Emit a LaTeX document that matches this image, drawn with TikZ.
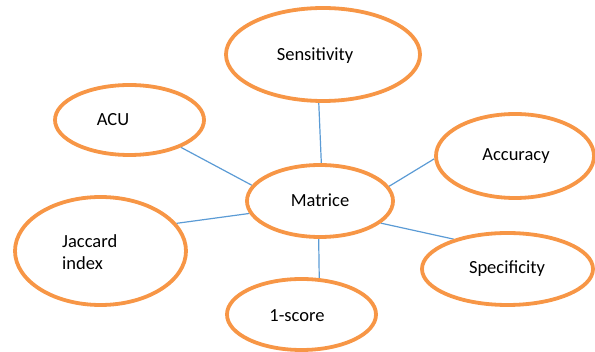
\documentclass[tikz,border=0pt]{standalone}
\usepackage{fontspec}
\setmainfont{Carlito}
\usetikzlibrary{shapes.geometric,backgrounds}
\definecolor{orangeC}{HTML}{F79646}
\definecolor{blueC}{HTML}{5B9BD5}
\tikzset{
  ell/.style={ellipse, draw=orangeC, line width=3.8pt, inner sep=0pt},
  lbl/.style={inner sep=0pt, font=\fontsize{18.5}{22}\selectfont, text=black},
  conn/.style={draw=blueC, line width=1.2pt}
}
\begin{document}
\begin{tikzpicture}[x=1pt,y=-1pt]
\useasboundingbox (0,0) rectangle (595,352);
% ellipses
\node[ell, minimum width=194pt, minimum height=93pt] (sens) at (323,54.5) {};
\node[ell, minimum width=149pt, minimum height=70pt] (acu) at (129.5,120) {};
\node[ell, minimum width=158pt, minimum height=84pt] (acc) at (515,156) {};
\node[ell, minimum width=146pt, minimum height=72pt] (mat) at (320,201) {};
\node[ell, minimum width=171pt, minimum height=108pt] (jac) at (100.5,251) {};
\node[ell, minimum width=171pt, minimum height=72pt] (spec) at (507.5,269) {};
\node[ell, minimum width=149pt, minimum height=71pt] (one) at (301.5,314.5) {};
% labels
\node[lbl] (tsens) at (315,56) {Sensitivity};
\node[lbl] (tacu) at (113,120) {ACU};
\node[lbl] (tacc) at (516,156) {Accuracy};
\node[lbl] (tmat) at (320,200) {Matrice};
\node[lbl, align=left, anchor=west] (tjac) at (62,252) {Jaccard\\index};
\node[lbl] (tspec) at (507,269) {Specificity};
\node[lbl] (tone) at (297,316) {1-score};
% connectors
\begin{scope}[on background layer]
\draw[conn] (sens.-95.7) -- (mat.88.3);
\draw[conn] (acu.-28) -- (mat.167.1);
\draw[conn] (acc.182.4) -- (mat.12.3);
\draw[conn] (jac.20.8) -- (mat.190.7);
\draw[conn] (spec.151.2) -- (mat.-20.6);
\draw[conn] (one.64.4) -- (mat.-92.9);
\end{scope}
\end{tikzpicture}
\end{document}
